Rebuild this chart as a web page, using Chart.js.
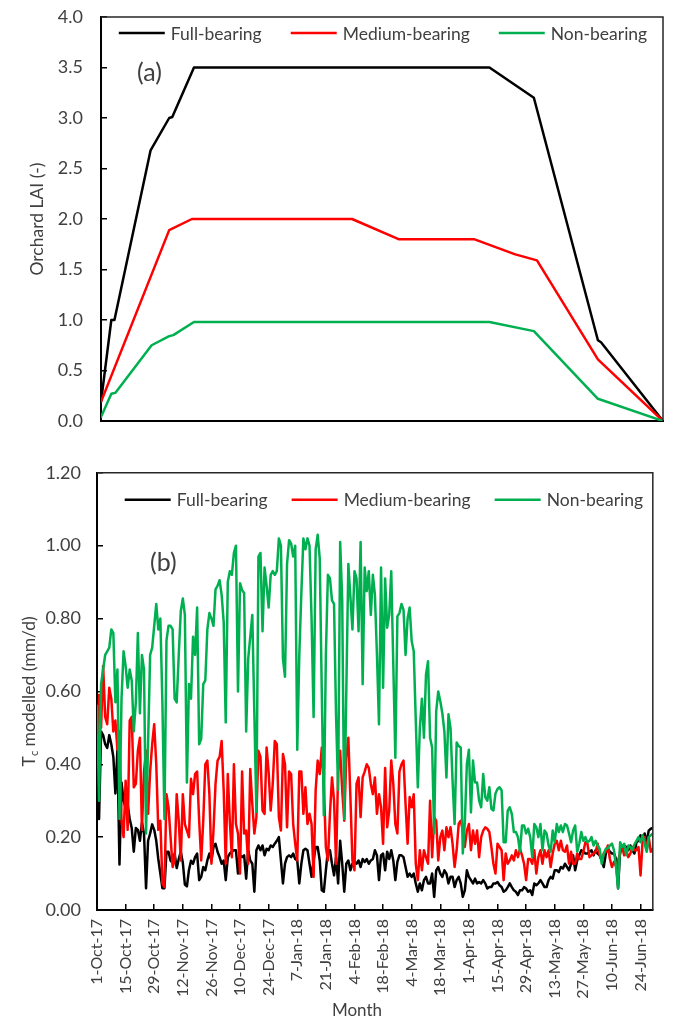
<!DOCTYPE html>
<html><head><meta charset="utf-8">
<script src="https://cdn.jsdelivr.net/npm/chart.js@4.4.1/dist/chart.umd.min.js"></script>
<style>
html,body{margin:0;padding:0;background:#fff;}
#wrap{position:relative;width:675px;height:1022px;overflow:hidden;}
canvas{position:absolute;left:0;}
</style></head><body>
<div id="wrap">
<canvas id="c1" width="675" height="440" style="top:0"></canvas>
<canvas id="c2" width="675" height="582" style="top:440px"></canvas>
</div>
<script>
// ---------- DATA ----------
const seriesNames = ['Full-bearing', 'Medium-bearing', 'Non-bearing'];

// Panel (a): orchard LAI, breakpoints (day since 1-Oct-17, LAI)
const laiDayFull = [0, 5, 6.5, 24, 33, 34.5, 45, 188, 209.5, 240.5, 242, 272];
const laiFull    = [0.19, 1.0, 1.0, 2.68, 3.0, 3.01, 3.5, 3.5, 3.2, 0.80, 0.78, 0];
const laiDayMed  = [0, 33, 44, 121.5, 144, 180.5, 200.5, 211, 240.5, 241.5, 272];
const laiMed     = [0.19, 1.89, 2.0, 2.0, 1.8, 1.8, 1.65, 1.59, 0.61, 0.59, 0];
const laiDayNon  = [0, 5, 7, 24.5, 33, 35, 45, 188, 209.5, 240.5, 272];
const laiNon     = [0.04, 0.27, 0.28, 0.75, 0.84, 0.85, 0.98, 0.98, 0.89, 0.22, 0];

// Panel (b): daily modelled Tc (mm/d), 1-Oct-17 .. 30-Jun-18
const tcFull = [
0.50,0.25,0.49,0.48,0.455,0.445,0.48,0.455,0.42,0.32,
0.44,0.125,0.35,0.30,0.28,0.29,0.25,0.225,0.16,0.225,
0.22,0.19,0.24,0.21,0.06,0.19,0.21,0.235,0.22,0.19,
0.14,0.10,0.06,0.06,0.16,0.16,0.135,0.13,0.155,0.115,
0.14,0.16,0.13,0.07,0.065,0.11,0.135,0.127,0.145,0.155,
0.082,0.091,0.118,0.109,0.136,0.155,0.136,0.173,0.182,0.16,
0.145,0.127,0.136,0.082,0.145,0.155,0.16,0.164,0.164,0.10,
0.15,0.145,0.15,0.086,0.164,0.136,0.127,0.05,0.164,0.177,
0.164,0.177,0.15,0.168,0.164,0.177,0.173,0.182,0.19,0.20,
0.136,0.073,0.127,0.145,0.15,0.145,0.155,0.14,0.136,0.073,
0.127,0.164,0.168,0.164,0.127,0.091,0.136,0.173,0.173,0.136,
0.054,0.05,0.109,0.164,0.164,0.127,0.095,0.145,0.073,0.19,
0.127,0.05,0.127,0.136,0.109,0.127,0.132,0.127,0.136,0.118,
0.14,0.132,0.14,0.127,0.136,0.14,0.164,0.15,0.082,0.15,
0.155,0.109,0.16,0.14,0.164,0.136,0.082,0.132,0.15,0.15,
0.145,0.118,0.091,0.10,0.091,0.10,0.073,0.05,0.073,0.054,
0.082,0.091,0.073,0.073,0.10,0.036,0.109,0.118,0.10,0.091,
0.109,0.10,0.073,0.091,0.091,0.063,0.082,0.091,0.073,0.036,
0.054,0.109,0.091,0.082,0.073,0.086,0.073,0.077,0.073,0.082,
0.073,0.059,0.063,0.063,0.073,0.073,0.077,0.068,0.063,0.05,
0.054,0.063,0.073,0.063,0.054,0.05,0.041,0.054,0.054,0.063,
0.059,0.05,0.054,0.041,0.073,0.068,0.073,0.082,0.073,0.063,
0.063,0.082,0.091,0.086,0.109,0.109,0.104,0.118,0.114,0.127,
0.118,0.109,0.127,0.15,0.109,0.136,0.15,0.164,0.16,0.155,
0.155,0.16,0.164,0.15,0.164,0.155,0.15,0.136,0.118,0.155,
0.168,0.16,0.155,0.155,0.14,0.059,0.164,0.168,0.177,0.173,
0.164,0.177,0.164,0.155,0.186,0.19,0.205,0.195,0.21,0.186,
0.218,0.223,0.225];

const tcMed = [
0.41,0.59,0.50,0.67,0.53,0.51,0.61,0.58,0.49,0.52,
0.44,0.49,0.245,0.20,0.355,0.22,0.52,0.53,0.337,0.346,
0.437,0.473,0.22,0.38,0.437,0.264,0.38,0.455,0.51,0.40,
0.22,0.245,0.073,0.063,0.318,0.282,0.20,0.118,0.136,0.318,
0.245,0.136,0.318,0.236,0.218,0.20,0.36,0.318,0.373,0.38,
0.245,0.136,0.245,0.40,0.41,0.318,0.127,0.218,0.346,0.41,
0.42,0.464,0.328,0.127,0.373,0.245,0.145,0.40,0.236,0.21,
0.10,0.38,0.21,0.218,0.127,0.387,0.291,0.21,0.255,0.437,
0.42,0.273,0.264,0.446,0.378,0.273,0.346,0.464,0.455,0.255,
0.218,0.428,0.40,0.227,0.38,0.373,0.236,0.182,0.136,0.38,
0.38,0.264,0.337,0.236,0.264,0.236,0.091,0.328,0.41,0.373,
0.446,0.346,0.173,0.136,0.264,0.364,0.30,0.127,0.38,0.437,
0.328,0.245,0.42,0.473,0.31,0.136,0.109,0.346,0.364,0.255,
0.364,0.38,0.40,0.39,0.346,0.318,0.364,0.264,0.318,0.282,
0.182,0.39,0.227,0.273,0.41,0.346,0.236,0.21,0.38,0.40,
0.41,0.291,0.182,0.31,0.282,0.318,0.127,0.082,0.164,0.109,
0.164,0.145,0.127,0.30,0.145,0.255,0.245,0.136,0.20,0.218,
0.164,0.227,0.20,0.227,0.182,0.118,0.164,0.236,0.245,0.218,
0.173,0.218,0.236,0.164,0.218,0.182,0.218,0.145,0.20,0.218,
0.227,0.223,0.214,0.173,0.127,0.10,0.182,0.173,0.164,0.082,
0.155,0.127,0.136,0.15,0.136,0.164,0.145,0.168,0.15,0.127,
0.082,0.14,0.14,0.127,0.164,0.10,0.145,0.164,0.127,0.164,
0.145,0.164,0.118,0.155,0.182,0.19,0.164,0.19,0.164,0.16,
0.177,0.127,0.16,0.127,0.127,0.155,0.14,0.14,0.16,0.186,
0.182,0.145,0.15,0.155,0.16,0.182,0.15,0.136,0.155,0.16,
0.177,0.14,0.118,0.132,0.12,0.136,0.155,0.173,0.15,0.164,
0.145,0.155,0.173,0.164,0.164,0.173,0.095,0.19,0.20,0.164,
0.20,0.16,0.168];

const tcNon = [
0.56,0.30,0.62,0.66,0.70,0.71,0.72,0.77,0.76,0.57,
0.66,0.25,0.58,0.71,0.67,0.61,0.66,0.63,0.49,0.57,
0.76,0.54,0.70,0.66,0.21,0.46,0.70,0.72,0.78,0.84,
0.77,0.80,0.57,0.25,0.74,0.78,0.78,0.77,0.58,0.57,
0.70,0.82,0.855,0.81,0.35,0.62,0.58,0.75,0.70,0.83,
0.455,0.47,0.62,0.63,0.77,0.815,0.80,0.78,0.88,0.89,
0.905,0.865,0.79,0.515,0.90,0.93,0.92,0.98,1.00,0.60,
0.897,0.878,0.87,0.49,0.69,0.75,0.81,0.54,0.27,0.97,
0.98,0.765,0.94,0.89,0.83,0.92,0.93,0.92,0.93,1.02,
1.00,0.69,0.64,0.95,1.015,1.006,0.97,1.00,0.44,0.70,
0.87,1.02,0.99,1.02,1.00,0.80,0.53,0.99,1.03,0.965,
0.60,0.26,0.70,0.92,0.91,0.85,0.84,0.53,0.33,1.01,
0.85,0.25,0.60,0.95,0.86,0.77,0.93,0.91,0.765,1.01,
0.62,0.94,0.875,0.93,0.81,0.92,0.865,0.70,0.51,0.94,
0.61,0.91,0.775,0.81,0.93,0.674,0.418,0.806,0.815,0.84,
0.824,0.70,0.80,0.83,0.738,0.71,0.52,0.337,0.50,0.58,
0.473,0.646,0.683,0.473,0.446,0.21,0.546,0.60,0.573,0.54,
0.49,0.364,0.537,0.50,0.355,0.236,0.46,0.45,0.446,0.155,
0.24,0.40,0.44,0.268,0.41,0.35,0.35,0.30,0.282,0.373,
0.31,0.30,0.337,0.278,0.273,0.32,0.332,0.337,0.328,0.186,
0.186,0.273,0.282,0.264,0.214,0.214,0.20,0.16,0.232,0.232,
0.21,0.223,0.20,0.145,0.236,0.227,0.20,0.236,0.164,0.218,
0.21,0.177,0.16,0.218,0.186,0.236,0.214,0.232,0.214,0.236,
0.232,0.21,0.186,0.218,0.232,0.16,0.182,0.214,0.19,0.20,
0.186,0.19,0.20,0.177,0.19,0.177,0.168,0.127,0.155,0.168,
0.17,0.177,0.182,0.164,0.118,0.06,0.186,0.173,0.182,0.15,
0.177,0.173,0.164,0.18,0.19,0.20,0.186,0.205,0.182,0.16,
0.20,0.205,0.21];

const tcTickLabels = ['1-Oct-17','15-Oct-17','29-Oct-17','12-Nov-17','26-Nov-17','10-Dec-17',
  '24-Dec-17','7-Jan-18','21-Jan-18','4-Feb-18','18-Feb-18','4-Mar-18','18-Mar-18','1-Apr-18',
  '15-Apr-18','29-Apr-18','13-May-18','27-May-18','10-Jun-18','24-Jun-18'];

// ---------- STYLE ----------
const seriesColors = ['#000000', '#FF0000', '#00B050'];
const FONT = 'Lato, "Open Sans", sans-serif';
const TXT = '#404040';
Chart.defaults.font.family = FONT;
Chart.defaults.color = TXT;
Chart.defaults.animation = false;

const toXY = (xs, ys) => ys.map((v, i) => ({x: xs[i], y: v}));
const dayIdx = tcFull.map((_, i) => i);

const framePlugin = {
  id: 'frame',
  afterDraw(chart) {
    const {ctx, chartArea: a} = chart;
    ctx.save();
    ctx.strokeStyle = '#262626';
    ctx.lineWidth = 1.5;
    ctx.beginPath();
    ctx.moveTo(a.left, a.top); ctx.lineTo(a.right, a.top); ctx.lineTo(a.right, a.bottom);
    ctx.stroke();
    ctx.restore();
  }
};

const inLegend = {
  id: 'inLegend',
  afterDraw(chart, args, o) {
    const {ctx, chartArea: a} = chart;
    ctx.save();
    ctx.font = o.size + 'px ' + FONT;
    const items = chart.data.datasets.map(d => ({label: d.label, color: d.borderColor, w: ctx.measureText(d.label).width}));
    const total = items.reduce((s, it) => s + o.lineLen + o.gap + it.w, 0) + o.spacing * (items.length - 1);
    let x = (a.left + a.right) / 2 - total / 2 + o.shift;
    const y = a.top + o.dy;
    items.forEach(it => {
      ctx.strokeStyle = it.color; ctx.lineWidth = 2.5;
      ctx.beginPath(); ctx.moveTo(x, y); ctx.lineTo(x + o.lineLen, y); ctx.stroke();
      x += o.lineLen + o.gap;
      ctx.fillStyle = TXT; ctx.textBaseline = 'middle'; ctx.textAlign = 'left';
      ctx.fillText(it.label, x, y + 1);
      x += it.w + o.spacing;
    });
    ctx.restore();
  }
};

const panelTag = {
  id: 'panelTag',
  afterDraw(chart, args, o) {
    const {ctx, chartArea: a} = chart;
    ctx.save();
    ctx.font = o.size + 'px ' + FONT;
    ctx.fillStyle = TXT; ctx.textBaseline = 'middle'; ctx.textAlign = 'left';
    ctx.fillText(o.text, a.left + o.dx, a.top + o.dy);
    ctx.restore();
  }
};

const subTitle = {
  id: 'subTitle',
  afterDraw(chart, args, o) {
    if (!o.main) return;
    const {ctx, chartArea: a} = chart;
    ctx.save();
    const big = o.size + 'px ' + FONT, small = Math.round(o.size * 0.65) + 'px ' + FONT;
    ctx.font = big; const w1 = ctx.measureText(o.main).width; const w3 = ctx.measureText(o.rest).width;
    ctx.font = small; const w2 = ctx.measureText(o.sub).width;
    const total = w1 + w2 + w3;
    ctx.translate(o.x, (a.top + a.bottom) / 2);
    ctx.rotate(-Math.PI / 2);
    ctx.fillStyle = TXT; ctx.textBaseline = 'middle'; ctx.textAlign = 'left';
    let x = -total / 2;
    ctx.font = big; ctx.fillText(o.main, x, 0); x += w1;
    ctx.font = small; ctx.fillText(o.sub, x, o.size * 0.3); x += w2;
    ctx.font = big; ctx.fillText(o.rest, x, 0);
    ctx.restore();
  }
};

const xTitle = {
  id: 'xTitle',
  afterDraw(chart, args, o) {
    if (!o.text) return;
    const {ctx, chartArea: a} = chart;
    ctx.save();
    ctx.font = o.size + 'px ' + FONT;
    ctx.fillStyle = TXT; ctx.textBaseline = 'middle'; ctx.textAlign = 'center';
    ctx.fillText(o.text, a.left + o.dx, a.bottom + o.dy);
    ctx.restore();
  }
};

function lineDs(i, data, order) {
  return {label: seriesNames[i], data, borderColor: seriesColors[i], backgroundColor: seriesColors[i],
    borderWidth: 2.5, pointRadius: 0, tension: 0, borderJoinStyle: 'round', borderCapStyle: 'round', order};
}

const axisCommon = {
  border: {display: true, color: '#000', width: 2},
  grid: {display: true, drawOnChartArea: false, drawTicks: true, tickLength: -6, color: '#000', lineWidth: 1.5}
};
const noPad = s => { s.paddingTop = 0; s.paddingBottom = 0; s.paddingLeft = 0; s.paddingRight = 0; };

// ---------- PANEL (a) ----------
new Chart(document.getElementById('c1'), {
  type: 'line',
  data: {datasets: [
    lineDs(0, toXY(laiDayFull, laiFull), 3),
    lineDs(1, toXY(laiDayMed, laiMed), 2),
    lineDs(2, toXY(laiDayNon, laiNon), 1)
  ]},
  options: {
    responsive: false, maintainAspectRatio: false,
    layout: {padding: {left: 0, right: 12, top: 17, bottom: 19}},
    plugins: {legend: {display: false}, tooltip: {enabled: false},
      inLegend: {size: 17.5, lineLen: 46, gap: 6, spacing: 29, dy: 16, shift: 1},
      panelTag: {text: '(a)', size: 25, dx: 36, dy: 56},
      subTitle: {}, xTitle: {}},
    scales: {
      x: {type: 'linear', min: 0, max: 272,
        border: {display: true, color: '#000', width: 2},
        grid: {display: false}, ticks: {display: false},
        afterFit: s => { s.height = 0; noPad(s); }},
      y: {min: 0, max: 4, ...axisCommon,
        ticks: {stepSize: 0.5, padding: 24, font: {size: 18}, callback: v => v.toFixed(1)},
        title: {display: true, text: 'Orchard LAI (-)', font: {size: 17.5}, padding: {top: 27, bottom: 0}},
        afterFit: s => { s.width = 101; noPad(s); }}
    }
  },
  plugins: [framePlugin, inLegend, panelTag, subTitle, xTitle]
});

// ---------- PANEL (b) ----------
new Chart(document.getElementById('c2'), {
  type: 'line',
  data: {datasets: [
    lineDs(0, toXY(dayIdx, tcFull), 3),
    lineDs(1, toXY(dayIdx, tcMed), 2),
    lineDs(2, toXY(dayIdx, tcNon), 1)
  ]},
  options: {
    responsive: false, maintainAspectRatio: false,
    layout: {padding: {left: 0, right: 11, top: 31, bottom: 0}},
    plugins: {legend: {display: false}, tooltip: {enabled: false},
      inLegend: {size: 17.5, lineLen: 46, gap: 6, spacing: 24, dy: 27, shift: 9},
      panelTag: {text: '(b)', size: 25, dx: 53, dy: 90},
      subTitle: {main: 'T', sub: 'c', rest: ' modelled (mm/d)', size: 17.5, x: 29},
      xTitle: {text: 'Month', size: 17, dx: 260, dy: 101}},
    scales: {
      x: {type: 'linear', min: 0, max: 272, ...axisCommon,
        ticks: {stepSize: 14, includeBounds: false, autoSkip: false, maxTicksLimit: 40,
          minRotation: 90, maxRotation: 90, padding: 15, font: {size: 16},
          callback: v => (v % 14 === 0 ? tcTickLabels[v / 14] : '')},
        afterFit: s => { s.height = 112; }},
      y: {min: 0, max: 1.2, ...axisCommon,
        ticks: {stepSize: 0.2, padding: 22, font: {size: 18}, callback: v => v.toFixed(2)},
        afterFit: s => { s.width = 97; }}
    }
  },
  plugins: [framePlugin, inLegend, panelTag, subTitle, xTitle]
});
</script>
</body></html>
